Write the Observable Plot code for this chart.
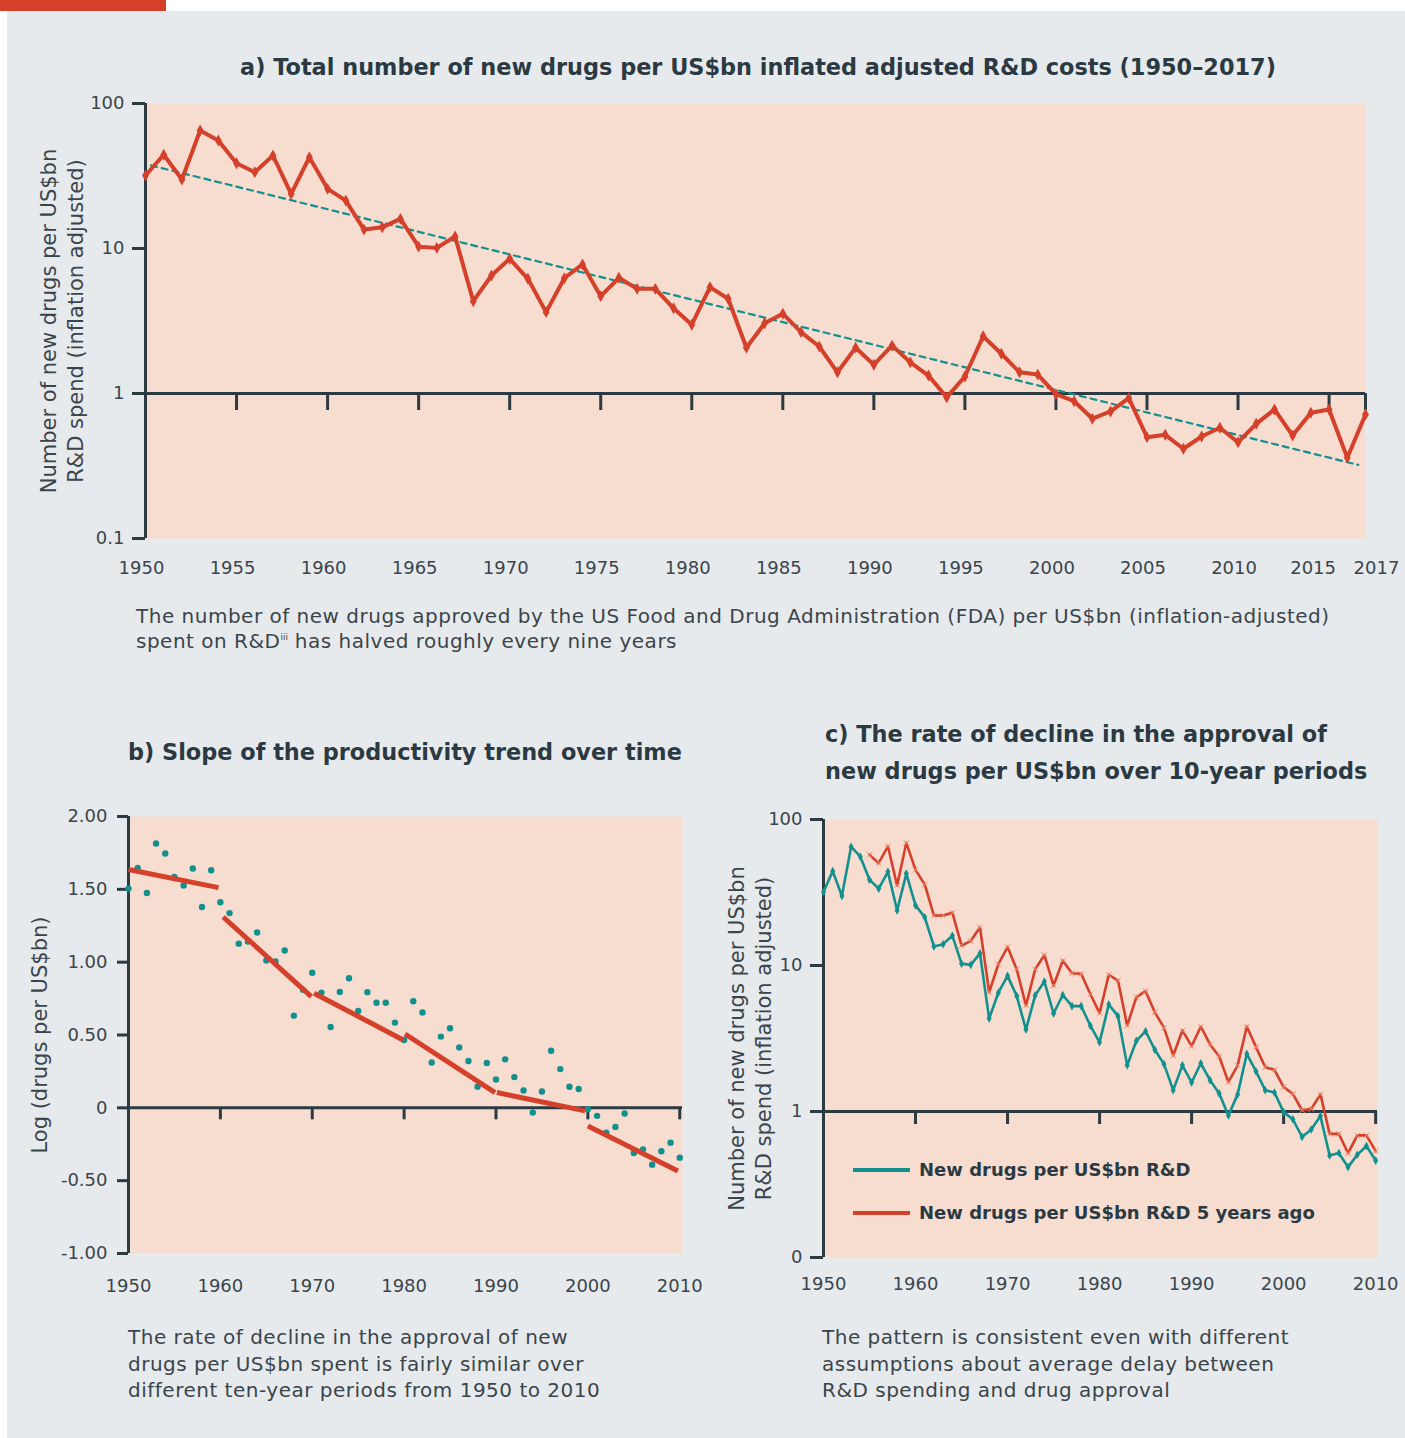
<!DOCTYPE html>
<html><head><meta charset="utf-8">
<script src="https://cdn.jsdelivr.net/npm/d3@7"></script>
<script src="https://cdn.jsdelivr.net/npm/@observablehq/plot@0.6"></script>
<style>
body{margin:0;background:#fff;width:1405px;height:1438px;position:relative;overflow:hidden;font-family:"DejaVu Sans",sans-serif;color:#2c3a41}
#bg{position:absolute;left:7px;top:11px;width:1398px;height:1427px;background:#e7eaed}
#bar{position:absolute;left:0;top:0;width:166px;height:11px;background:#d5402b}
.t{position:absolute;font-weight:bold;font-size:22.4px;line-height:30px;color:#2b3a42;white-space:nowrap}
.cap{position:absolute;font-size:20px;letter-spacing:0.5px;color:#3a454b;white-space:nowrap}
.chart{position:absolute}
.leg{position:absolute;font-weight:bold;font-size:18px;line-height:24px;color:#2b3a42;white-space:nowrap}
.leg span{display:inline-block;width:57px;height:4px;vertical-align:middle;margin-right:9px;position:relative;top:-1px}
</style></head><body>
<div id="bg"></div><div id="bar"></div>
<div class="t" style="left:758px;top:52px;transform:translateX(-50%)">a) Total number of new drugs per US$bn inflated adjusted R&amp;D costs (1950–2017)</div>
<div class="cap" style="left:136px;top:604px;line-height:25px">The number of new drugs approved by the US Food and Drug Administration (FDA) per US$bn (inflation-adjusted)<br>spent on R&amp;D<sup style="font-size:9px;vertical-align:8px;line-height:0;letter-spacing:0">iii</sup> has halved roughly every nine years</div>
<div class="t" style="left:128px;top:737px">b) Slope of the productivity trend over time</div>
<div class="t" style="left:825px;top:716px;line-height:37px">c) The rate of decline in the approval of<br>new drugs per US$bn over 10-year periods</div>
<div class="cap" style="left:128px;top:1324px;line-height:26.5px">The rate of decline in the approval of new<br>drugs per US$bn spent is fairly similar over<br>different ten-year periods from 1950 to 2010</div>
<div class="cap" style="left:822px;top:1324px;line-height:26.5px">The pattern is consistent even with different<br>assumptions about average delay between<br>R&amp;D spending and drug approval</div>
<div id="ca" class="chart" style="left:0;top:80px"></div>
<div id="cb" class="chart" style="left:0;top:790px"></div>
<div id="cc" class="chart" style="left:705px;top:790px"></div>
<div class="leg" style="left:853px;top:1158px"><span style="background:#12908e"></span>New drugs per US$bn R&amp;D</div>
<div class="leg" style="left:853px;top:1201px"><span style="background:#d5402b"></span>New drugs per US$bn R&amp;D 5 years ago</div>
<script>
// ---------- data ----------
const years = [1950,1951,1952,1953,1954,1955,1956,1957,1958,1959,1960,1961,1962,1963,1964,1965,1966,1967,1968,1969,1970,1971,1972,1973,1974,1975,1976,1977,1978,1979,1980,1981,1982,1983,1984,1985,1986,1987,1988,1989,1990,1991,1992,1993,1994,1995,1996,1997,1998,1999,2000,2001,2002,2003,2004,2005,2006,2007,2008,2009,2010,2011,2012,2013,2014,2015,2016,2017];
// new drugs per US$bn R&D (inflation adjusted), 1950–2017
const drugsPerBn = [31.9,44.3,29.9,65.1,55.6,38.7,33.6,43.8,23.8,42.6,25.8,21.4,13.5,14.0,16.0,10.3,10.1,12.1,4.33,6.51,8.49,6.18,3.64,6.24,7.76,4.69,6.28,5.27,5.27,3.87,2.98,5.41,4.50,2.07,3.05,3.55,2.65,2.11,1.40,2.07,1.58,2.14,1.64,1.33,0.94,1.31,2.48,1.88,1.40,1.35,0.99,0.885,0.67,0.752,0.93,0.50,0.519,0.416,0.505,0.58,0.461,0.618,0.776,0.513,0.736,0.776,0.36,0.716];
// trend line endpoints (panel a)
const trendYears = [1950.3, 2016.6];
const trendValues = [37.4, 0.322];
// panel b: log(drugs per US$bn), 1950–2010
const logYears = years.slice(0, 61);
const logDrugs = [1.505,1.647,1.475,1.815,1.746,1.585,1.526,1.643,1.379,1.631,1.411,1.337,1.127,1.142,1.204,1.012,1.005,1.080,0.633,0.81,0.927,0.791,0.555,0.796,0.890,0.665,0.794,0.721,0.721,0.585,0.466,0.732,0.655,0.311,0.489,0.546,0.415,0.321,0.145,0.308,0.195,0.333,0.211,0.119,-0.032,0.112,0.392,0.266,0.145,0.129,-0.009,-0.055,-0.17,-0.131,-0.039,-0.310,-0.285,-0.390,-0.298,-0.239,-0.342];
// panel b: ten-year fitted segments
const segStartYear = [1950, 1960.3, 1970.2, 1980.1, 1990.1, 2000.0];
const segEndYear   = [1959.8, 1969.9, 1979.9, 1989.9, 1999.7, 2009.8];
const segStartVal  = [1.636, 1.31, 0.787, 0.507, 0.105, -0.124];
const segEndVal    = [1.512, 0.764, 0.466, 0.105, -0.021, -0.434];
// panel c: new drugs per US$bn R&D 5 years ago, 1955–2010
const lagYears = years.slice(5, 61);
const lagged = [57.5,50.2,65.6,35.3,69.2,45.2,35.9,22.0,22.0,23.0,13.7,14.7,18.3,6.56,10.2,13.4,9.4,5.32,9.4,11.8,7.3,10.8,8.85,8.77,6.35,4.72,8.64,7.89,3.88,6.07,6.67,4.79,3.74,2.42,3.59,2.80,3.82,2.88,2.38,1.59,2.07,3.82,2.76,2.01,1.93,1.47,1.32,1.02,1.04,1.31,0.703,0.703,0.518,0.686,0.686,0.535];
// ticks
const aTickLabels = [1950,1955,1960,1965,1970,1975,1980,1985,1990,1995,2000,2005,2010];
const aTickMarks = [1955,1960,1965,1970,1975,1980,1985,1990,1995,2000,2005,2010,2015,2017];
const logTicks = [0.1,1,10,100];
const bYTicks = [-1,-0.5,0,0.5,1,1.5,2];
const bYTickLabels = ["-1.00","-0.50","0","0.50","1.00","1.50","2.00"];
const decadeTicks = [1950,1960,1970,1980,1990,2000,2010];

// ---------- styles ----------
const PINK = "#f7dcd0", RED = "#d5402b", TEAL = "#12908e", DARK = "#2c3a41", TXT = "#3a454b";
const FONT = "DejaVu Sans";
const baseStyle = {fontFamily: FONT, fontSize: "18px", background: "transparent", color: TXT, overflow: "visible"};

const A = years.map((y, i) => ({year: y, value: drugsPerBn[i]}));
const trend = trendYears.map((y, i) => ({year: y, value: trendValues[i]}));
const B = logYears.map((y, i) => ({year: y, value: logDrugs[i]}));
const segs = segStartYear.map((y, i) => ({x1: y, x2: segEndYear[i], y1: segStartVal[i], y2: segEndVal[i]}));
const C1 = A.filter(d => d.year <= 2010);
const C2 = lagYears.map((y, i) => ({year: y, value: lagged[i]}));

const yLabel = (txt, dx) => Plot.text([txt], {frameAnchor: "left", textAnchor: "middle", lineAnchor: "middle", dx, rotate: -90, text: d => d, lineHeight: 1.3, fill: TXT, fontSize: 21});

// ---------- panel a ----------
const pa = Plot.plot({
  width: 1405, height: 530,
  marginLeft: 145, marginRight: 40, marginTop: 23, marginBottom: 72,
  style: baseStyle,
  x: {domain: [1950, 2017], axis: null},
  y: {type: "log", domain: [0.1, 100], axis: null},
  marks: [
    Plot.frame({fill: PINK, stroke: "none"}),
    Plot.ruleY([1], {stroke: DARK, strokeWidth: 3}),
    Plot.ruleX(aTickMarks, {x: d => d, y1: 1, y2: 1, insetBottom: -17, stroke: DARK, strokeWidth: 3}),
    Plot.ruleX([1950], {stroke: DARK, strokeWidth: 3}),
    Plot.axisY({ticks: logTicks, label: null, tickSize: 13, tickPadding: 8, tickFormat: d => String(d), strokeWidth: 3, stroke: DARK, fill: TXT, fontSize: 18}),
    Plot.line(trend, {x: "year", y: "value", stroke: TEAL, strokeWidth: 2.2, strokeDasharray: "6,5"}),
    Plot.line(A, {x: "year", y: "value", stroke: RED, strokeWidth: 4}),
    Plot.dot(A, {x: "year", y: "value", symbol: "diamond", r: 3.6, fill: RED}),
    Plot.text(aTickLabels, {x: d => d, frameAnchor: "bottom", dy: 35, dx: -4, text: d => String(d), fill: TXT, fontSize: 18}),
    Plot.text([2015], {x: d => d, frameAnchor: "bottom", dy: 35, dx: -16, text: d => String(d), fill: TXT, fontSize: 18}),
    Plot.text([2017], {x: d => d, frameAnchor: "bottom", dy: 35, dx: 11, text: d => String(d), fill: TXT, fontSize: 18}),
    yLabel("Number of new drugs per US$bn\nR&D spend (inflation adjusted)", -85)
  ]
});
document.getElementById("ca").append(pa);

// ---------- panel b ----------
const pb = Plot.plot({
  width: 705, height: 500,
  marginLeft: 128, marginRight: 23, marginTop: 26, marginBottom: 37,
  style: baseStyle,
  x: {domain: [1950, 2010.3], axis: null},
  y: {domain: [-1, 2], axis: null},
  marks: [
    Plot.frame({fill: PINK, stroke: "none"}),
    Plot.ruleY([0], {stroke: DARK, strokeWidth: 3}),
    Plot.ruleX(decadeTicks.slice(1), {x: d => d, y1: 0, y2: 0, insetBottom: -12, stroke: DARK, strokeWidth: 3}),
    Plot.ruleX([1950], {stroke: DARK, strokeWidth: 3}),
    Plot.axisY({ticks: bYTicks, label: null, tickSize: 11, tickPadding: 10, tickFormat: d => bYTickLabels[bYTicks.indexOf(d)], strokeWidth: 3, stroke: DARK, fill: TXT, fontSize: 18}),
    Plot.dot(B, {x: "year", y: "value", r: 3.2, fill: TEAL}),
    Plot.link(segs, {x1: "x1", y1: "y1", x2: "x2", y2: "y2", stroke: RED, strokeWidth: 5}),
    Plot.text(decadeTicks, {x: d => d, frameAnchor: "bottom", dy: 38, text: d => String(d), fill: TXT, fontSize: 18}),
    yLabel("Log (drugs per US$bn)", -90)
  ]
});
document.getElementById("cb").append(pb);

// ---------- panel c ----------
const pc = Plot.plot({
  width: 700, height: 500,
  marginLeft: 118, marginRight: 28, marginTop: 29, marginBottom: 33,
  style: baseStyle,
  x: {domain: [1950, 2010.2], axis: null},
  y: {type: "log", domain: [0.1, 100], axis: null},
  marks: [
    Plot.frame({fill: PINK, stroke: "none"}),
    Plot.ruleY([1], {stroke: DARK, strokeWidth: 3}),
    Plot.ruleX(decadeTicks.slice(1), {x: d => d, y1: 1, y2: 1, insetBottom: -13, stroke: DARK, strokeWidth: 3}),
    Plot.ruleX([1950], {stroke: DARK, strokeWidth: 3}),
    Plot.axisY({ticks: logTicks, label: null, tickSize: 13, tickPadding: 8, tickFormat: d => d === 0.1 ? "0" : String(d), strokeWidth: 3, stroke: DARK, fill: TXT, fontSize: 18}),
    Plot.line(C1, {x: "year", y: "value", stroke: TEAL, strokeWidth: 2.6}),
    Plot.dot(C1, {x: "year", y: "value", symbol: "diamond", r: 2.6, fill: TEAL}),
    Plot.line(C2, {x: "year", y: "value", stroke: RED, strokeWidth: 2.6}),
    Plot.dot(C2, {x: "year", y: "value", symbol: "times", r: 2.6, stroke: "#ec8a72", strokeWidth: 1}),
    Plot.text(decadeTicks, {x: d => d, frameAnchor: "bottom", dy: 32, text: d => String(d), fill: TXT, fontSize: 18}),
    yLabel("Number of new drugs per US$bn\nR&D spend (inflation adjusted)", -75)
  ]
});
document.getElementById("cc").append(pc);
</script>
</body></html>
